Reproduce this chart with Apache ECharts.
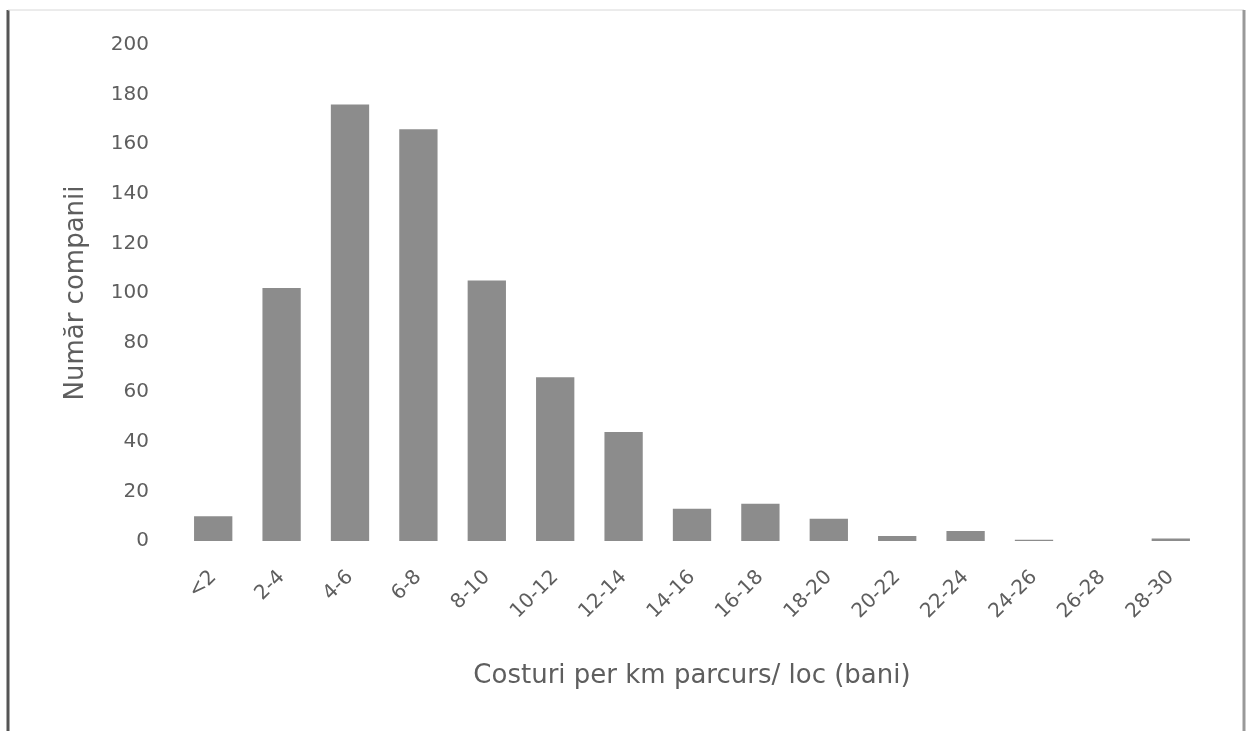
<!DOCTYPE html>
<html>
<head>
<meta charset="utf-8">
<script src="https://cdn.jsdelivr.net/npm/echarts@6/dist/echarts.min.js"></script>
<style>
  html, body { margin: 0; padding: 0; background: #fff; }
  #chart { width: 1255px; height: 731px; }
</style>
</head>
<body>
<div id="chart"></div>
<script>
// intervale de cost (bani / km / loc)
var categories = ['<2', '2-4', '4-6', '6-8', '8-10', '10-12', '12-14', '14-16', '16-18', '18-20', '20-22', '22-24', '24-26', '26-28', '28-30'];
// numar de companii pe interval
var companies = [10, 102, 176, 166, 105, 66, 44, 13, 15, 9, 2, 4, 0.5, 0, 1];
var yTicks = { min: 0, max: 200, step: 20 };

var myChart = echarts.init(document.getElementById('chart'));
var textColor = '#5e5e5e';
var font = '"DejaVu Sans", sans-serif';

var option = {
    backgroundColor: '#fff',
    animation: false,
    grid: {
        left: 179,
        right: 50,
        top: 45,
        bottom: 190
    },
    // rama graficului (stanga, sus, dreapta)
    graphic: [
        { type: 'line', shape: { x1: 8, y1: 10, x2: 8, y2: 731 }, style: { stroke: '#555', lineWidth: 3 } },
        { type: 'line', shape: { x1: 8, y1: 10, x2: 1244, y2: 10 }, style: { stroke: '#d8d8d8', lineWidth: 1 } },
        { type: 'line', shape: { x1: 1244, y1: 10, x2: 1244, y2: 731 }, style: { stroke: '#999', lineWidth: 3 } }
    ],
    xAxis: {
        type: 'category',
        data: categories,
        name: 'Costuri per km parcurs/ loc (bani)',
        nameLocation: 'middle',
        nameGap: 122,
        nameTextStyle: { color: textColor, fontSize: 26, fontFamily: font },
        axisLine: { show: false },
        axisTick: { show: false },
        axisLabel: {
            rotate: 45,
            margin: 33,
            color: textColor,
            fontSize: 20,
            fontFamily: font,
            interval: 0
        }
    },
    yAxis: {
        type: 'value',
        min: yTicks.min,
        max: yTicks.max,
        interval: yTicks.step,
        name: 'Număr companii',
        nameLocation: 'middle',
        nameGap: 90,
        nameTextStyle: { color: textColor, fontSize: 26, fontFamily: font },
        splitLine: { show: false },
        axisLine: { show: false },
        axisTick: { show: false },
        axisLabel: {
            margin: 30,
            color: textColor,
            fontSize: 20,
            fontFamily: font
        }
    },
    series: [{
        type: 'bar',
        data: companies,
        barCategoryGap: '44%',
        itemStyle: { color: '#8c8c8c' }
    }]
};
myChart.setOption(option);
</script>
</body>
</html>
